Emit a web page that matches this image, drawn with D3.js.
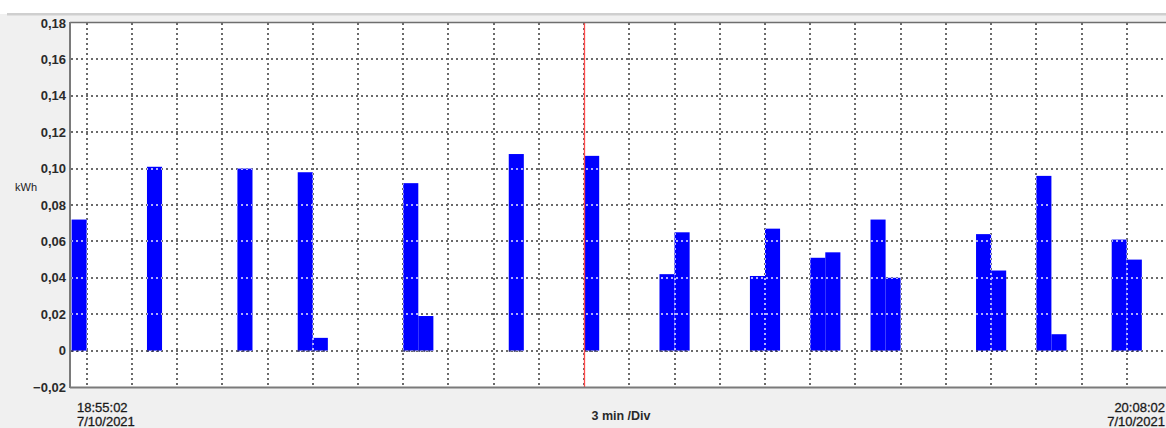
<!DOCTYPE html>
<html>
<head>
<meta charset="utf-8">
<script src="https://cdn.jsdelivr.net/npm/d3@7"></script>
<style>
  html, body { margin: 0; padding: 0; background: #ffffff; }
  svg { display: block; }
</style>
</head>
<body>
<div id="chart"></div>
<script>
// ---- data ----
const startLabel = ["18:55:02", "7/10/2021"];
const endLabel = ["20:08:02", "7/10/2021"];
const totalMinutes = 73;               // 18:55:02 -> 20:08:02
const barMinutes = [0, 5, 11, 15, 16, 22, 23, 29, 34, 39, 40, 45, 46, 49, 50, 53, 54, 60, 61, 64, 65, 69, 70];
const barValues  = [0.072, 0.101, 0.100, 0.098, 0.007, 0.092, 0.019, 0.108, 0.107, 0.042, 0.065, 0.041, 0.067, 0.051, 0.054, 0.072, 0.040, 0.064, 0.044, 0.096, 0.009, 0.061, 0.050];
const yTicks = [-0.02, 0, 0.02, 0.04, 0.06, 0.08, 0.10, 0.12, 0.14, 0.16, 0.18];
const gridMinutes = d3.range(1, 74, 3);  // 3 min / Div
const cursorMinute = 34;
const yLabel = "kWh";
const xDivLabel = "3 min /Div";

// ---- layout ----
const W = 1166, H = 428;
const plot = { left: 71, top: 23, right: 1172, bottom: 387 };

const svg = d3.select("#chart").append("svg").attr("width", W).attr("height", H);

// background panel
svg.append("rect").attr("x", 0).attr("y", 14).attr("width", W).attr("height", H - 14).attr("fill", "#f0f0f0");
svg.append("rect").attr("x", 7).attr("y", 13).attr("width", W - 7).attr("height", 2.5).attr("fill", "#cfcfcf");

const x = d3.scaleLinear().domain([0, totalMinutes]).range([plot.left + 0.6, plot.right]);
const y = d3.scaleLinear().domain([-0.02, 0.18]).range([plot.bottom, plot.top]);

// plot area
svg.append("rect").attr("x", plot.left).attr("y", plot.top).attr("width", plot.right - plot.left).attr("height", plot.bottom - plot.top).attr("fill", "#ffffff");

const bw = x(1) - x(0);
const bars = barMinutes.map((m, i) => ({ m, v: barValues[i] }));

// clip path of bars
const defs = svg.append("defs");
const clip = defs.append("clipPath").attr("id", "barclip");
clip.selectAll("rect").data(bars).join("rect")
  .attr("x", d => x(d.m))
  .attr("y", d => y(d.v))
  .attr("width", bw)
  .attr("height", d => y(0) - y(d.v));

function drawGrid(g, color) {
  g.selectAll("line.h").data(yTicks.filter(t => t > -0.02 && t < 0.18)).join("line")
    .attr("class", "h")
    .attr("x1", plot.left).attr("x2", plot.right)
    .attr("y1", d => Math.round(y(d))).attr("y2", d => Math.round(y(d)))
    .attr("stroke", color).attr("stroke-width", 2).attr("stroke-dasharray", "2,3");
  g.selectAll("line.v").data(gridMinutes).join("line")
    .attr("class", "v")
    .attr("x1", d => Math.round(x(d))).attr("x2", d => Math.round(x(d)))
    .attr("y1", plot.top).attr("y2", plot.bottom)
    .attr("stroke", color).attr("stroke-width", 2).attr("stroke-dasharray", "2,3");
}

// dark grid
drawGrid(svg.append("g"), "#6a6a6a");

// bars
svg.append("g").selectAll("rect").data(bars).join("rect")
  .attr("x", d => x(d.m))
  .attr("y", d => y(d.v))
  .attr("width", bw)
  .attr("height", d => y(0) - y(d.v))
  .attr("fill", "#0000ff");

// light grid over bars
drawGrid(svg.append("g").attr("clip-path", "url(#barclip)"), "#b0b0ff");

// bar bottom dotted edge
svg.append("g").selectAll("line").data(bars).join("line")
  .attr("x1", d => x(d.m)).attr("x2", d => x(d.m) + bw)
  .attr("y1", Math.round(y(0))).attr("y2", Math.round(y(0)))
  .attr("stroke", "#202060").attr("stroke-width", 1.5).attr("stroke-dasharray", "2,3");

// cursor
svg.append("line")
  .attr("x1", Math.round(x(cursorMinute)) + 0.5).attr("x2", Math.round(x(cursorMinute)) + 0.5)
  .attr("y1", plot.top).attr("y2", plot.bottom)
  .attr("stroke", "#ff4a4a").attr("stroke-width", 1.3);

// borders
svg.append("line").attr("x1", plot.left - 1).attr("x2", plot.right).attr("y1", plot.top - 0.5).attr("y2", plot.top - 0.5)
  .attr("stroke", "#6e6e6e").attr("stroke-width", 1.5);
svg.append("line").attr("x1", plot.left - 1).attr("x2", plot.left - 1).attr("y1", plot.top - 1).attr("y2", plot.bottom + 1)
  .attr("stroke", "#7a7a7a").attr("stroke-width", 2);
svg.append("line").attr("x1", plot.left - 1).attr("x2", plot.right).attr("y1", plot.bottom + 0.5).attr("y2", plot.bottom + 0.5)
  .attr("stroke", "#7a7a7a").attr("stroke-width", 2);

// y-axis labels
const fmt = v => (Math.abs(v) < 1e-9 ? "0" : d3.format(".2f")(v).replace(".", ","));
svg.append("g").selectAll("text").data(yTicks).join("text")
  .attr("x", 66).attr("y", d => y(d)).attr("dy", "0.36em")
  .attr("text-anchor", "end")
  .attr("font-family", "Liberation Sans, Arial, sans-serif")
  .attr("font-size", 13).attr("font-weight", "bold").attr("fill", "#2a2a2a")
  .text(fmt);

svg.append("text").attr("x", 15).attr("y", 191)
  .attr("font-family", "Liberation Sans, Arial, sans-serif").attr("font-size", 11).attr("fill", "#222")
  .text(yLabel);

// x labels
const tl = svg.append("text").attr("font-family", "Liberation Sans, Arial, sans-serif").attr("font-size", 13).attr("fill", "#1a1a1a")
  .attr("stroke", "#1a1a1a").attr("stroke-width", 0.3);
tl.append("tspan").attr("x", 77).attr("y", 412).text(startLabel[0]);
tl.append("tspan").attr("x", 77).attr("y", 426).text(startLabel[1]);
const tr = svg.append("text").attr("text-anchor", "end").attr("font-family", "Liberation Sans, Arial, sans-serif").attr("font-size", 13).attr("fill", "#1a1a1a")
  .attr("stroke", "#1a1a1a").attr("stroke-width", 0.3);
tr.append("tspan").attr("x", 1165).attr("y", 412).text(endLabel[0]);
tr.append("tspan").attr("x", 1165).attr("y", 426).text(endLabel[1]);

svg.append("text").attr("x", 621).attr("y", 420).attr("text-anchor", "middle")
  .attr("font-family", "Liberation Sans, Arial, sans-serif").attr("font-size", 12.5).attr("font-weight", "bold").attr("fill", "#2a2a2a")
  .text(xDivLabel);
</script>
</body>
</html>
